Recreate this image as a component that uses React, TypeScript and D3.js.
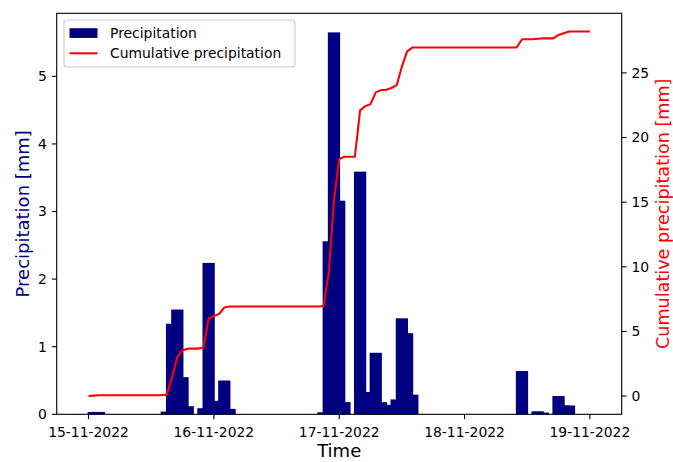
import React from "react";
import * as d3 from "d3";

// hourly precipitation [mm], starting 15-11-2022 00:00, one value per hour
const startTime = new Date(2022, 10, 15, 0, 0);
const precipDay15 = [
  0, 0.035, 0.035, 0, 0, 0, 0, 0, 0, 0, 0, 0,
  0, 0, 0, 0.04, 1.34, 1.55, 0.55, 0.12, 0, 0, 0.09, 2.24,
];
const precipDay16 = [
  0.2, 0.15, 0.5, 0.08, 0, 0, 0, 0, 0, 0, 0, 0,
  0, 0, 0, 0, 0, 0, 0, 0, 0, 0.03, 2.56, 5.65,
];
const precipDay17 = [
  3.16, 0.18, 0, 0, 3.59, 0.33, 0.15, 0.91, 0.18, 0.02, 0.14, 0.22,
  1.42, 1.2, 0.29, 0, 0, 0, 0, 0, 0, 0, 0, 0,
];
const precipDay18 = [
  0, 0, 0, 0, 0, 0, 0, 0, 0, 0, 0, 0.64,
  0, 0, 0.045, 0.025, 0, 0, 0.27, 0.13, 0.13, 0, 0, 0,
];
const precipDay19 = [0];

const dateTicks = ["2022-11-15", "2022-11-16", "2022-11-17", "2022-11-18", "2022-11-19"];
const leftTicks = [0, 1, 2, 3, 4, 5];
const rightTicks = [0, 5, 10, 15, 20, 25];

const W = 673;
const H = 462;
const margin = { top: 13.3, right: 51.3, bottom: 47.7, left: 56.7 };
const font = "DejaVu Sans, sans-serif";
const navy = "#000080";
const red = "#ff0000";

export default function App() {
  const values = [...precipDay15, ...precipDay16, ...precipDay17, ...precipDay18, ...precipDay19];
  const times = values.map((_, i) => d3.timeHour.offset(startTime, i));
  const cumulative = d3.cumsum(values);
  const rows = values.map((v, i) => ({ t: times[i], v, c: cumulative[i] }));

  const barHalf = 1.175 * 3600 * 1000; // bar width about 2.35 h
  const x0 = +times[0] - barHalf;
  const x1 = +times[times.length - 1] + barHalf;
  const xPad = (x1 - x0) * 0.05;
  const x = d3.scaleTime()
    .domain([new Date(x0 - xPad), new Date(x1 + xPad)])
    .range([margin.left, W - margin.right]);

  const yL = d3.scaleLinear()
    .domain([0, d3.max(values)! * 1.05])
    .range([H - margin.bottom, margin.top]);

  const cMin = d3.min(cumulative)!;
  const cMax = d3.max(cumulative)!;
  const cPad = (cMax - cMin) * 0.05;
  const yR = d3.scaleLinear()
    .domain([cMin - cPad, cMax + cPad])
    .range([H - margin.bottom, margin.top]);

  const line = d3.line<{ t: Date; c: number }>()
    .x((d) => x(d.t))
    .y((d) => yR(d.c));

  const parse = d3.timeParse("%Y-%m-%d");
  const fmt = d3.timeFormat("%d-%m-%Y");
  const bottom = H - margin.bottom;
  const right = W - margin.right;
  const tickLen = 4.86;

  return (
    <svg width={W} height={H} style={{ position: "absolute", left: 0, top: 0, background: "#fff" }}>
      {/* bars */}
      {rows.filter((d) => d.v > 0).map((d, i) => (
        <rect
          key={i}
          x={x(new Date(+d.t - barHalf))}
          width={x(new Date(+d.t + barHalf)) - x(new Date(+d.t - barHalf))}
          y={yL(d.v)}
          height={bottom - yL(d.v)}
          fill={navy}
        />
      ))}

      {/* cumulative line */}
      <path d={line(rows)!} fill="none" stroke={red} strokeWidth={2.08} strokeLinejoin="round" />

      {/* frame */}
      <rect x={margin.left} y={margin.top} width={right - margin.left} height={bottom - margin.top}
        fill="none" stroke="#000" strokeWidth={1.1} />

      {/* x axis */}
      {dateTicks.map((s) => {
        const px = x(parse(s)!);
        return (
          <g key={s}>
            <line x1={px} x2={px} y1={bottom} y2={bottom + tickLen} stroke="#000" strokeWidth={1.1} />
            <text x={px} y={bottom + 22.3} textAnchor="middle" fontSize={13.9} fontFamily={font}>{fmt(parse(s)!)}</text>
          </g>
        );
      })}
      <text x={(margin.left + right) / 2} y={457} textAnchor="middle" fontSize={18} fontFamily={font}>Time</text>

      {/* left axis */}
      {leftTicks.map((v) => (
        <g key={v}>
          <line x1={margin.left - tickLen} x2={margin.left} y1={yL(v)} y2={yL(v)} stroke="#000" strokeWidth={1.1} />
          <text x={margin.left - tickLen - 4.9} y={yL(v)} dy="0.35em" textAnchor="end" fontSize={13.9} fontFamily={font}>{v}</text>
        </g>
      ))}
      <text transform={`translate(22.5,${(margin.top + bottom) / 2}) rotate(-90)`} textAnchor="middle"
        dy="0.35em" fontSize={18} fontFamily={font} fill={navy}>Precipitation [mm]</text>

      {/* right axis */}
      {rightTicks.map((v) => (
        <g key={v}>
          <line x1={right} x2={right + tickLen} y1={yR(v)} y2={yR(v)} stroke="#000" strokeWidth={1.1} />
          <text x={right + tickLen + 4.9} y={yR(v)} dy="0.35em" textAnchor="start" fontSize={13.9} fontFamily={font}>{v}</text>
        </g>
      ))}
      <text transform={`translate(663,${(margin.top + bottom) / 2}) rotate(-90)`} textAnchor="middle"
        dy="0.35em" fontSize={17.6} fontFamily={font} fill={red}>Cumulative precipitation [mm]</text>

      {/* legend */}
      <g>
        <rect x={64} y={20} width={231} height={47} rx={3} fill="#fff" fillOpacity={0.8} stroke="#cccccc" strokeWidth={1.1} />
        <rect x={69.5} y={28.2} width={28} height={9.7} fill={navy} />
        <text x={110} y={37.5} fontSize={13.9} fontFamily={font}>Precipitation</text>
        <line x1={69.5} x2={97.5} y1={53.3} y2={53.3} stroke={red} strokeWidth={2.08} />
        <text x={110} y={58} fontSize={13.9} fontFamily={font}>Cumulative precipitation</text>
      </g>
    </svg>
  );
}
